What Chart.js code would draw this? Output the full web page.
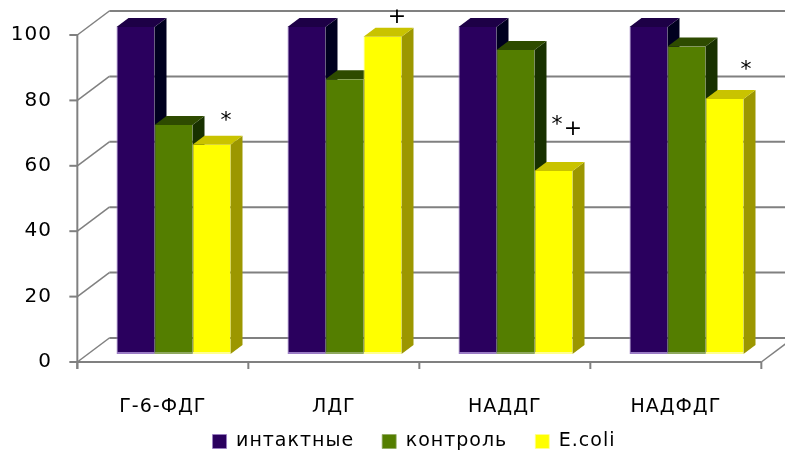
<!DOCTYPE html>
<html>
<head>
<meta charset="utf-8">
<script src="https://cdn.jsdelivr.net/npm/chart.js@4"></script>
<style>
  html, body { margin: 0; padding: 0; background: #ffffff; }
  canvas { display: block; }
</style>
</head>
<body>
<canvas id="chart" width="785" height="456"></canvas>
<script>
// Enzyme activity, % of intact level
const categories = ['Г-6-ФДГ', 'ЛДГ', 'НАДДГ', 'НАДФДГ'];
const seriesNames = ['интактные', 'контроль', 'E.coli'];
const intact  = [100, 100, 100, 100];
const control = [70, 84, 93, 94];
const ecoli   = [64, 97, 56, 78];
const yTicks  = [0, 20, 40, 60, 80, 100];
// significance marks above the E.coli bars
const ecoliMarks = ['*', '+', '*+', '*'];

// ---- styling ----
const FONT = '"DejaVu Sans", sans-serif';
const palette = [
  { front: '#2a005e', top: '#1d0046', side: '#00001f', edge: '#9a7cc4' },
  { front: '#547e00', top: '#2e4b00', side: '#183100', edge: '#8fa860' },
  { front: '#ffff00', top: '#c9c300', side: '#9c9700', edge: '#ffff90' }
];
const DEPTH = { x: 32, y: 24 };   // depth of the floor / side wall
const BAR_FRONT = 1 / 3;          // where the bar fronts sit inside that depth
const BAR_DEPTH = 0.375;          // bar thickness as a share of the depth
const GRID = '#808080';
// per-character offsets of the marks from the top centre of each E.coli bar
const markOffsets = [
  [[15, -23]],
  [[15, -20]],
  [[4, -46], [20, -42]],
  [[22, -29]]
];

function line(ctx, x1, y1, x2, y2) {
  ctx.beginPath();
  ctx.moveTo(x1, y1);
  ctx.lineTo(x2, y2);
  ctx.stroke();
}
function poly(ctx, pts, fill) {
  ctx.beginPath();
  ctx.moveTo(pts[0], pts[1]);
  for (let i = 2; i < pts.length; i += 2) ctx.lineTo(pts[i], pts[i + 1]);
  ctx.closePath();
  ctx.fillStyle = fill;
  ctx.fill();
}

// Draws the 3-D frame (walls, floor, front axes) and the top/side faces of the bars.
const cubePlugin = {
  id: 'cube',
  beforeUpdate(chart) { chart.ctx.letterSpacing = '1px'; },
  beforeDraw(chart) { chart.ctx.letterSpacing = '1px'; },
  beforeDatasetsDraw(chart) {
    const { ctx, chartArea: a, scales: { y } } = chart;
    const ox = DEPTH.x * BAR_FRONT, oy = DEPTH.y * BAR_FRONT;
    const fL = a.left - ox, fR = a.right - ox;
    const fy = v => y.getPixelForValue(v) + oy;

    ctx.save();
    ctx.strokeStyle = GRID;
    ctx.lineCap = 'butt';

    // back wall grid
    ctx.lineWidth = 2;
    yTicks.forEach(v => line(ctx, fL + DEPTH.x, fy(v) - DEPTH.y, chart.width, fy(v) - DEPTH.y));
    // side wall grid
    ctx.lineWidth = 1.5;
    yTicks.forEach(v => line(ctx, fL, fy(v), fL + DEPTH.x, fy(v) - DEPTH.y));
    // floor right edge
    line(ctx, fR, fy(0), fR + DEPTH.x, fy(0) - DEPTH.y);

    // front axes with tick marks
    ctx.lineWidth = 2;
    line(ctx, fL, fy(100) - 1, fL, fy(0) + 7);
    line(ctx, fL - 1, fy(0), fR, fy(0));
    yTicks.forEach(v => line(ctx, fL - 8, fy(v), fL, fy(v)));
    for (let i = 0; i <= categories.length; i++) {
      const xx = fL + (fR - fL) * i / categories.length;
      line(ctx, xx, fy(0), xx, fy(0) + 7);
    }

    // bar tops and right sides, left to right inside each group
    const bx = DEPTH.x * BAR_DEPTH, by = DEPTH.y * BAR_DEPTH;
    categories.forEach((c, i) => {
      chart.data.datasets.forEach((ds, d) => {
        const el = chart.getDatasetMeta(d).data[i];
        const p = el.getProps(['x', 'y', 'base', 'width'], true);
        const l = p.x - p.width / 2, r = p.x + p.width / 2;
        poly(ctx, [r, p.y, r + bx, p.y - by, r + bx, p.base - by, r, p.base], palette[d].side);
        poly(ctx, [l, p.y, r, p.y, r + bx, p.y - by, l + bx, p.y - by], palette[d].top);
      });
    });
    ctx.restore();
  },
  afterDatasetsDraw(chart) {
    const { ctx } = chart;
    const meta = chart.getDatasetMeta(2);
    ctx.save();
    ctx.fillStyle = '#000';
    ctx.font = '22px ' + FONT;
    ctx.textAlign = 'center';
    ctx.textBaseline = 'middle';
    ecoliMarks.forEach((m, i) => {
      const p = meta.data[i].getProps(['x', 'y'], true);
      [...m].forEach((ch, k) => {
        const off = markOffsets[i][k];
        ctx.fillText(ch, p.x + off[0], p.y + off[1]);
      });
    });
    ctx.restore();
  }
};

// tick labels sit outside their scale boxes, so they are not clipped to them
function freeLabels(scale) {
  scale._computeLabelArea = () => undefined;
}

const seriesValues = [intact, control, ecoli];
const datasets = seriesValues.map((vals, d) => ({
  label: seriesNames[d],
  data: vals,
  backgroundColor: palette[d].front,
  borderColor: palette[d].edge,
  borderWidth: { left: 1, bottom: 2, top: 0, right: 0 },
  borderSkipped: false,
  barPercentage: 1,
  categoryPercentage: 2 / 3
}));

Chart.defaults.font.family = FONT;
Chart.defaults.color = '#000';

new Chart(document.getElementById('chart'), {
  type: 'bar',
  data: { labels: categories, datasets },
  options: {
    responsive: false,
    devicePixelRatio: 1,
    animation: false,
    events: [],
    layout: { padding: { left: 56, right: 13, top: 27, bottom: -5 } },
    plugins: {
      tooltip: { enabled: false },
      legend: {
        position: 'bottom',
        labels: {
          font: { size: 19 },
          color: '#000',
          boxWidth: 14,
          boxHeight: 14,
          padding: 28
        }
      }
    },
    scales: {
      x: {
        grid: { display: false, drawTicks: false },
        border: { display: false },
        ticks: {
          font: { size: 19 },
          color: '#000',
          padding: 42,
          labelOffset: -DEPTH.x * BAR_FRONT,
          autoSkip: false,
          maxRotation: 0
        },
        afterFit(scale) { scale.height = 50; freeLabels(scale); }
      },
      y: {
        min: 0,
        max: 100,
        grid: { display: false, drawTicks: false },
        border: { display: false },
        ticks: {
          stepSize: 20,
          font: { size: 20 },
          color: '#000',
          padding: 36,
          labelOffset: DEPTH.y * BAR_FRONT
        },
        afterFit(scale) {
          scale.width = 32;
          scale.paddingTop = 0;
          scale.paddingBottom = 0;
          freeLabels(scale);
        }
      }
    }
  },
  plugins: [cubePlugin]
});
</script>
</body>
</html>
